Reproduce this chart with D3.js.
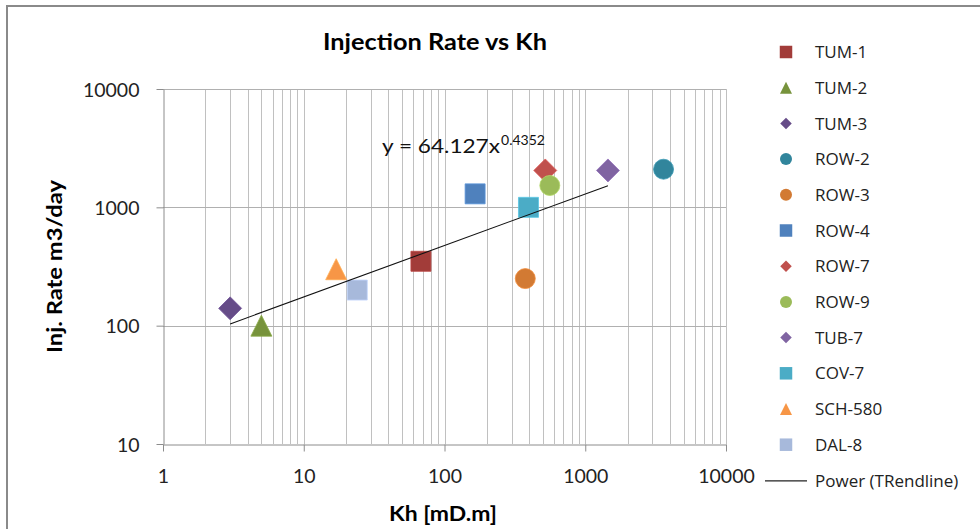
<!DOCTYPE html>
<html>
<head>
<meta charset="utf-8">
<script src="https://cdn.jsdelivr.net/npm/d3@7"></script>
<style>
    body { margin: 0; background: #fff; }
    svg { display: block; font-family: Lato, "Open Sans", sans-serif; }
</style>
</head>
<body>
<div id="chart"></div>
<script>
// well data
var wells  = ["TUM-1", "TUM-2", "TUM-3", "ROW-2", "ROW-3", "ROW-4", "ROW-7", "ROW-9", "TUB-7", "COV-7", "SCH-580", "DAL-8"];
var kh     = [68, 5, 3, 3600, 375, 165, 520, 560, 1450, 395, 17, 24];
var rate   = [350, 100, 140, 2100, 250, 1300, 2050, 1530, 2050, 1000, 300, 200];
var shapes = ["square", "triangle", "diamond", "circle", "circle", "square", "diamond", "circle", "diamond", "square", "triangle", "square"];
var colors = ["#a23c39", "#77933c", "#664c88", "#31859c", "#d27a33", "#4f81bd", "#c0504d", "#9bbb59", "#8064a2", "#4bacc6", "#f79646", "#a7b9db"];

// power trendline y = a * x^b, drawn over the x range of the fit
var trendA = 64.127, trendB = 0.4352;
var trendX = [3, 1450];

var xTicks = [1, 10, 100, 1000, 10000];
var yTicks = [10, 100, 1000, 10000];

var svg = d3.select("#chart").append("svg").attr("width", 980).attr("height", 529),
    plot = {left: 163, right: 726, top: 89, bottom: 444};

var x = d3.scaleLog().domain([1, 10000]).range([plot.left, plot.right]),
    y = d3.scaleLog().domain([10, 10000]).range([plot.bottom, plot.top]);

// outer chart border (only top/left visible in the crop)
svg.append("rect")
    .attr("x", 7).attr("y", 6)
    .attr("width", 1000).attr("height", 600)
    .attr("fill", "none")
    .attr("stroke", "#8a8a8a")
    .attr("stroke-width", 2);

svg.append("text")
    .attr("x", 323).attr("y", 50)
    .attr("textLength", 224).attr("lengthAdjust", "spacingAndGlyphs")
    .style("font-weight", "bold")
    .style("font-size", "22px")
    .attr("fill", "#000")
    .text("Injection Rate vs Kh");

var g = svg.append("g");

// vertical grid: every minor + major log tick
var xGrid = x.ticks().filter(function(d) { return d > 1; });
g.selectAll(".vgrid")
    .data(xGrid)
    .enter()
    .append("line")
    .attr("class", "vgrid")
    .attr("x1", function(d) { return Math.round(x(d)) + 0.5; })
    .attr("x2", function(d) { return Math.round(x(d)) + 0.5; })
    .attr("y1", plot.top).attr("y2", plot.bottom)
    .attr("stroke", "#c0c0c0");

// horizontal grid: majors only
g.selectAll(".hgrid")
    .data(yTicks.filter(function(d) { return d > 10; }))
    .enter()
    .append("line")
    .attr("class", "hgrid")
    .attr("x1", plot.left).attr("x2", plot.right)
    .attr("y1", function(d) { return Math.round(y(d)) + 0.5; })
    .attr("y2", function(d) { return Math.round(y(d)) + 0.5; })
    .attr("stroke", "#b0b0b0");

// axes
var xAxis = g.append("g")
    .attr("transform", "translate(0," + (plot.bottom + 0.5) + ")")
    .call(d3.axisBottom(x).tickValues(xTicks).tickFormat(d3.format("d")).tickSizeInner(7).tickSizeOuter(0).tickPadding(14));

var yAxis = g.append("g")
    .attr("transform", "translate(" + (plot.left + 0.5) + ",0)")
    .call(d3.axisLeft(y).tickValues(yTicks).tickFormat(d3.format("d")).tickSizeInner(7).tickSizeOuter(0).tickPadding(17));

[xAxis, yAxis].forEach(function(a) {
    a.select(".domain").attr("stroke", "#8c8c8c");
    a.selectAll(".tick line").attr("stroke", "#8c8c8c");
    a.selectAll(".tick text")
        .attr("fill", "#222")
        .style("font-family", "Lato, sans-serif")
        .style("font-size", "19.5px");
});
xAxis.selectAll(".tick text").attr("dy", "0.9em");
yAxis.selectAll(".tick text").attr("dy", "0.36em");

svg.append("text")
    .attr("transform", "translate(62,353) rotate(-90)")
    .attr("textLength", 173).attr("lengthAdjust", "spacingAndGlyphs")
    .style("font-weight", "bold")
    .style("font-size", "20px")
    .attr("fill", "#000")
    .text("Inj. Rate m3/day");

svg.append("text")
    .attr("x", 389).attr("y", 521)
    .attr("textLength", 108).attr("lengthAdjust", "spacingAndGlyphs")
    .style("font-weight", "bold")
    .style("font-size", "20px")
    .attr("fill", "#000")
    .text("Kh [mD.m]");

// marker paths
function markerPath(shape, s) {
    var h = s / 2;
    if (shape === "square") return "M" + (-h) + "," + (-h) + "h" + s + "v" + s + "h" + (-s) + "Z";
    if (shape === "diamond") return "M0," + (-h) + "L" + h + ",0L0," + h + "L" + (-h) + ",0Z";
    if (shape === "triangle") return "M0," + (-h) + "L" + h + "," + h + "L" + (-h) + "," + h + "Z";
    return d3.arc()({innerRadius: 0, outerRadius: h, startAngle: 0, endAngle: 2 * Math.PI});
}
var plotSize = {square: 20, diamond: 23, triangle: 21, circle: 20},
    legendSize = {square: 12.5, diamond: 11.5, triangle: 12, circle: 12};

var pts = wells.map(function(w, i) {
    return {name: w, x: kh[i], y: rate[i], shape: shapes[i], color: colors[i]};
});

g.selectAll(".pt")
    .data(pts)
    .enter()
    .append("path")
    .attr("class", "pt")
    .attr("transform", function(d) { return "translate(" + x(d.x) + "," + y(d.y) + ")"; })
    .attr("d", function(d) { return markerPath(d.shape, plotSize[d.shape]); })
    .attr("fill", function(d) { return d.color; })
    .attr("stroke", function(d) { return d3.color(d.color).brighter(0.4); })
    .attr("stroke-width", 0.8);

// trendline (straight in log-log space)
var line = d3.line()
    .x(function(d) { return x(d); })
    .y(function(d) { return y(trendA * Math.pow(d, trendB)); });

g.append("path")
    .attr("d", line(trendX))
    .attr("fill", "none")
    .attr("stroke", "#111")
    .attr("stroke-width", 1.1);

svg.append("text")
    .attr("x", 382).attr("y", 153)
    .attr("textLength", 118).attr("lengthAdjust", "spacingAndGlyphs")
    .style("font-size", "20px")
    .attr("fill", "#111")
    .text("y = " + trendA + "x");
svg.append("text")
    .attr("x", 501).attr("y", 145)
    .attr("textLength", 44).attr("lengthAdjust", "spacingAndGlyphs")
    .style("font-size", "13.5px")
    .attr("fill", "#111")
    .text(trendB);

// legend
var legend = svg.append("g").style("font-family", "'Open Sans', sans-serif");
var rows = legend.selectAll(".leg")
    .data(pts)
    .enter()
    .append("g")
    .attr("class", "leg")
    .attr("transform", function(d, i) { return "translate(0," + (52 + i * 35.7) + ")"; });

rows.append("path")
    .attr("transform", "translate(786,0)")
    .attr("d", function(d) { return markerPath(d.shape, legendSize[d.shape]); })
    .attr("fill", function(d) { return d.color; });

rows.append("text")
    .attr("x", 815).attr("dy", "0.36em")
    .style("font-size", "17px")
    .attr("fill", "#222")
    .text(function(d) { return d.name; });

var trendRow = legend.append("g").attr("transform", "translate(0," + (52 + wells.length * 35.7) + ")");
trendRow.append("line")
    .attr("x1", 765).attr("x2", 807)
    .attr("y1", 0.5).attr("y2", 0.5)
    .attr("stroke", "#222").attr("stroke-width", 1.2);
trendRow.append("text")
    .attr("x", 815).attr("dy", "0.36em")
    .style("font-size", "17px")
    .attr("fill", "#222")
    .text("Power (TRendline)");
</script>
</body>
</html>
